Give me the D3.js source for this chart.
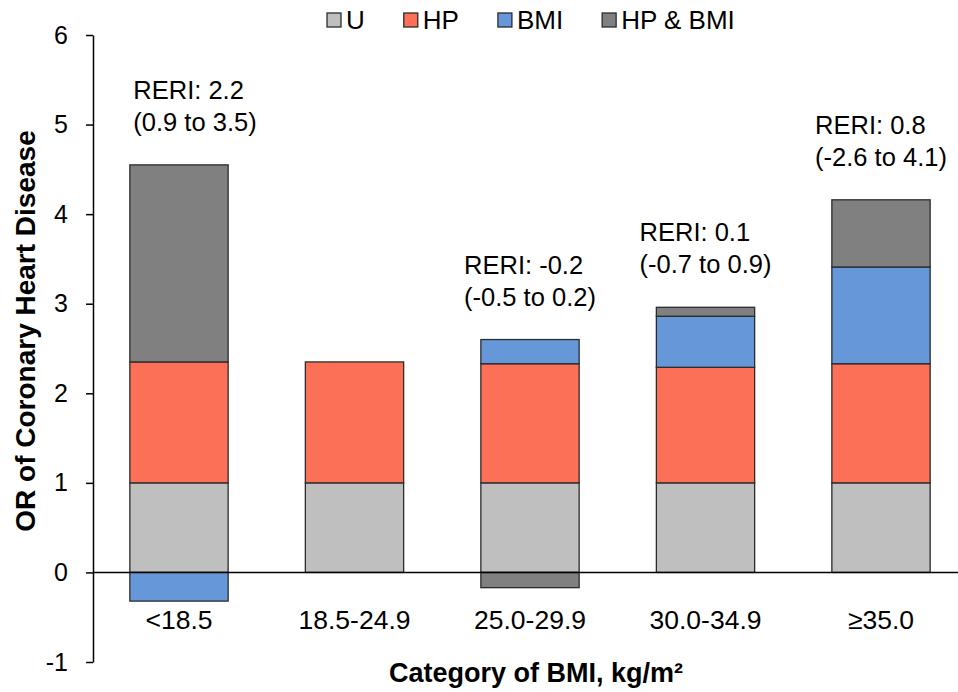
<!DOCTYPE html>
<html>
<head>
<meta charset="utf-8">
<script src="https://cdn.jsdelivr.net/npm/d3@7"></script>
<style>
  body { margin: 0; background: #fff; }
  svg { font-family: Arial, "Liberation Sans", sans-serif; }
</style>
</head>
<body>
<svg id="chart" width="958" height="692"></svg>
<script>
// categories and stacked segments (OR contributions)
const categories = ["<18.5", "18.5-24.9", "25.0-29.9", "30.0-34.9", "≥35.0"];
const seriesNames = ["U", "HP", "BMI", "HP & BMI"];
const uVals = [1, 1, 1, 1, 1];
const hpVals = [1.35, 1.35, 1.33, 1.29, 1.33];
const bmiVals = [-0.32, 0, 0.27, 0.57, 1.08];
const bothVals = [2.2, 0, -0.17, 0.1, 0.75];
const reriLabels = [
  ["RERI: 2.2", "(0.9 to 3.5)"],
  null,
  ["RERI: -0.2", "(-0.5 to 0.2)"],
  ["RERI: 0.1", "(-0.7 to 0.9)"],
  ["RERI: 0.8", "(-2.6 to 4.1)"]
];
const yTicks = [-1, 0, 1, 2, 3, 4, 5, 6];
const colors = ["#bfbfbf", "#fd7058", "#6698d9", "#808080"];

const width = 958, height = 692;
const margin = { top: 35, right: -9, bottom: 30, left: 93 };

const rows = categories.map((c, i) => ({
  cat: c, "U": uVals[i], "HP": hpVals[i], "BMI": bmiVals[i], "HP & BMI": bothVals[i]
}));

const stack = d3.stack().keys(seriesNames).offset(d3.stackOffsetDiverging);
const layers = stack(rows);

const svg = d3.select("#chart");

const x = d3.scaleBand()
  .domain(categories)
  .range([margin.left, width - margin.right])
  .paddingInner(0.44)
  .paddingOuter(0.21);

const y = d3.scaleLinear()
  .domain([-1, 6])
  .range([662, margin.top]);

const color = d3.scaleOrdinal().domain(seriesNames).range(colors);

// bars
svg.append("g")
  .selectAll("g")
  .data(layers)
  .join("g")
  .attr("fill", d => color(d.key))
  .selectAll("rect")
  .data(d => d)
  .join("rect")
  .attr("x", d => x(d.data.cat))
  .attr("width", x.bandwidth())
  .attr("y", d => y(Math.max(d[0], d[1])))
  .attr("height", d => Math.abs(y(d[0]) - y(d[1])))
  .attr("stroke", d => (d[1] - d[0]) === 0 ? "none" : "#2b2b2b")
  .attr("stroke-width", 1.3);

// zero line
svg.append("line")
  .attr("x1", margin.left).attr("x2", width)
  .attr("y1", y(0)).attr("y2", y(0))
  .attr("stroke", "#000").attr("stroke-width", 1.5);

// y axis
const yAxis = svg.append("g")
  .attr("transform", `translate(${margin.left},0)`)
  .call(d3.axisLeft(y).tickValues(yTicks).tickSize(7).tickSizeOuter(0).tickFormat(d => String(d)));
yAxis.select(".domain").attr("stroke", "#000").attr("stroke-width", 1.5);
yAxis.selectAll(".tick line").attr("stroke", "#000").attr("stroke-width", 1.5);
yAxis.selectAll(".tick text")
  .attr("x", -25)
  .attr("fill", "#000")
  .style("font-size", "25px");

// category labels
svg.append("g")
  .selectAll("text")
  .data(categories)
  .join("text")
  .attr("x", d => x(d) + x.bandwidth() / 2)
  .attr("y", 629)
  .attr("text-anchor", "middle")
  .style("font-size", "26.5px")
  .text(d => d);

// axis titles
svg.append("text")
  .attr("transform", `translate(35,331) rotate(-90)`)
  .attr("text-anchor", "middle")
  .style("font-size", "28px")
  .style("font-weight", "bold")
  .text("OR of Coronary Heart Disease");

svg.append("text")
  .attr("x", 536)
  .attr("y", 682)
  .attr("text-anchor", "middle")
  .style("font-size", "27px")
  .style("font-weight", "bold")
  .text("Category of BMI, kg/m²");

// RERI annotations above the bars
const tops = rows.map((r, i) => d3.max(layers, l => Math.max(l[i][0], l[i][1])));
const ann = svg.append("g")
  .selectAll("text")
  .data(reriLabels.map((l, i) => ({ l, i })).filter(d => d.l))
  .join("text")
  .style("font-size", "25.5px")
  .attr("fill", "#000");
ann.each(function (d) {
  const t = d3.select(this);
  d.l.forEach((line, k) => {
    t.append("tspan").attr("x", 0).attr("dy", k === 0 ? 0 : 32).text(line);
  });
  const w = this.getBBox().width;
  // first label sits a little right of its bar in the original
  const nudge = d.i === 0 ? 16 : 0;
  const left = x(categories[d.i]) + x.bandwidth() / 2 - w / 2 + nudge;
  t.attr("transform", `translate(${left},${y(tops[d.i]) - 66})`);
});

// legend
const legend = svg.append("g").attr("transform", "translate(327,20)");
let lx = 0;
seriesNames.forEach((name, i) => {
  const g = legend.append("g").attr("transform", `translate(${lx},0)`);
  g.append("rect")
    .attr("x", 0).attr("y", -7).attr("width", 14).attr("height", 14)
    .attr("fill", colors[i]).attr("stroke", "#2b2b2b").attr("stroke-width", 1.3);
  const t = g.append("text")
    .attr("x", 19).attr("y", 9)
    .style("font-size", "26px")
    .text(name);
  lx += 19 + t.node().getComputedTextLength() + 39;
});
</script>
</body>
</html>
